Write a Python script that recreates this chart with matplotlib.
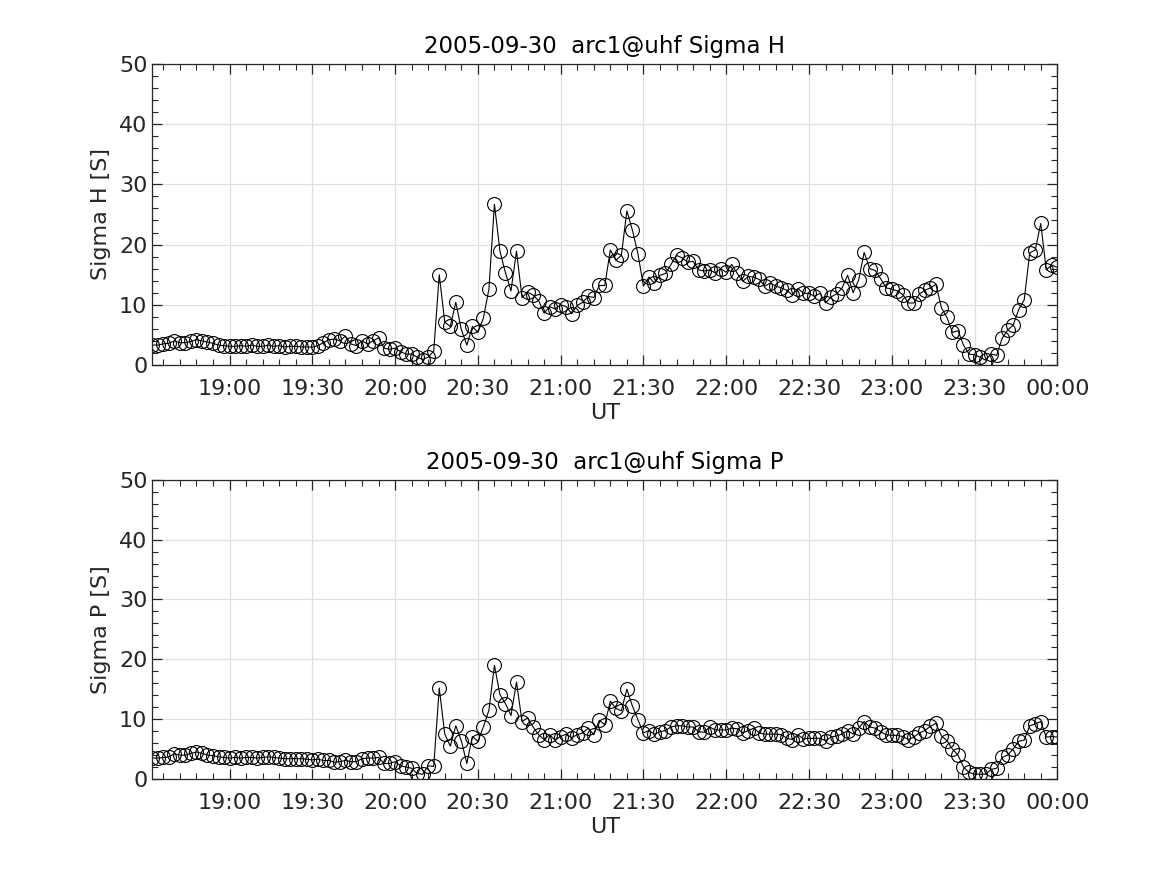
import datetime as dt
import matplotlib
matplotlib.use("Agg")
import matplotlib.pyplot as plt
import matplotlib.dates as mdates
from matplotlib.ticker import MultipleLocator

# data: one sample every 2 minutes, 18:32 -> 00:00
start_time = dt.datetime(2005, 9, 30, 18, 32)
n_samples = 165
times = [start_time + dt.timedelta(minutes=2 * i) for i in range(n_samples)]

sigma_h = [
    3.3, 3.3, 3.5, 3.6, 4.0, 3.7, 3.7, 3.9, 4.2, 4.0,
    3.8, 3.6, 3.3, 3.2, 3.1, 3.1, 3.2, 3.1, 3.3, 3.1,
    3.1, 3.3, 3.1, 3.2, 3.0, 3.1, 3.1, 3.0, 3.0, 2.95,
    3.2, 3.7, 4.2, 4.3, 4.0, 4.8, 3.5, 3.2, 4.0, 3.5,
    4.0, 4.5, 2.8, 2.6, 2.8, 2.2, 1.8, 1.8, 1.3, 0.9,
    1.3, 2.3,
    15.0, 7.1, 6.4, 10.4, 5.9, 3.3, 6.4, 5.4, 7.8, 12.6,
    26.7, 18.9, 15.3, 12.3, 18.9, 11.2, 12.1, 11.6, 10.7, 8.6,
    9.7, 9.3, 10.0, 9.7, 8.5, 9.9, 10.4, 11.4, 11.2, 13.2,
    13.2, 19.1, 17.4, 18.2, 25.6, 22.4, 18.5, 13.1, 14.6, 13.6,
    14.9, 15.2, 16.7, 18.2, 17.8, 17.1, 17.2, 15.8,
    15.6, 15.8, 15.3, 16.0, 15.4, 16.7, 15.2, 13.9, 14.7, 14.6,
    14.2, 13.1, 13.6, 13.1, 12.8, 12.4, 11.6, 12.7, 11.9, 11.9,
    11.4, 11.9, 10.3, 11.3, 11.8, 12.8, 14.9, 12.0, 14.1, 18.7,
    16.0, 15.7, 14.3, 12.8, 12.6, 12.3, 11.7, 10.3, 10.3, 11.8,
    12.4, 12.8, 13.4, 9.5, 7.9, 5.4, 5.7, 3.3, 1.8, 1.7,
    1.3, 0.8, 1.8, 1.6, 4.4, 5.8, 6.6, 9.2, 10.8, 18.6,
    19.1, 23.5, 15.8, 16.6, 16.2,
]

sigma_p = [
    3.5, 3.5, 3.6, 3.7, 4.2, 4.0, 4.0, 4.3, 4.5, 4.3,
    4.0, 3.9, 3.7, 3.6, 3.5, 3.6, 3.5, 3.6, 3.6, 3.5,
    3.6, 3.7, 3.6, 3.5, 3.4, 3.4, 3.4, 3.4, 3.3, 3.2,
    3.3, 3.1, 3.1, 2.8, 2.9, 3.1, 2.9, 2.9, 3.4, 3.5,
    3.5, 3.6, 2.6, 2.6, 2.9, 2.2, 2.0, 1.8, 0.9, 0.8,
    2.2, 2.1,
    15.2, 7.5, 5.5, 8.9, 6.4, 2.6, 7.1, 6.3, 8.7, 11.5,
    19.0, 14.1, 12.6, 10.6, 16.2, 9.6, 10.2, 8.7, 7.4, 6.6,
    7.4, 6.5, 7.1, 7.5, 6.9, 7.4, 7.7, 8.5, 7.4, 9.8,
    9.1, 13.0, 11.8, 11.4, 15.0, 12.2, 9.9, 7.7, 8.1, 7.5,
    7.9, 8.1, 8.7, 8.9, 8.9, 8.7, 8.7, 7.9,
    7.8, 8.7, 8.2, 8.2, 8.2, 8.5, 8.4, 7.7, 8.1, 8.5,
    7.7, 7.5, 7.5, 7.5, 7.4, 6.8, 6.6, 7.4, 6.7, 6.8,
    6.8, 6.8, 6.4, 7.0, 7.2, 7.5, 8.1, 7.5, 8.5, 9.6,
    8.7, 8.5, 7.9, 7.4, 7.3, 7.3, 7.1, 6.6, 7.0, 7.7,
    8.1, 8.8, 9.3, 7.2, 6.4, 5.0, 4.0, 2.0, 1.1, 0.8,
    0.8, 0.8, 1.6, 1.8, 3.6, 4.0, 5.0, 6.3, 6.5, 8.9,
    9.2, 9.6, 7.0, 7.1, 7.0,
]

panels = [
    (sigma_h, "2005-09-30  arc1@uhf Sigma H", "Sigma H [S]"),
    (sigma_p, "2005-09-30  arc1@uhf Sigma P", "Sigma P [S]"),
]

plt.rcParams["font.family"] = "DejaVu Sans"

fig = plt.figure(figsize=(11.67, 8.75), dpi=100)
ax_top = fig.add_axes([0.1305, 0.5829, 0.7755, 0.344])
ax_bot = fig.add_axes([0.1305, 0.1097, 0.7755, 0.342])

for ax, (values, title, ylabel) in zip([ax_top, ax_bot], panels):
    ax.plot(times, values, color="black", linewidth=0.8, marker="o",
            markersize=10, markerfacecolor="none", markeredgecolor="black",
            markeredgewidth=0.8)
    ax.set_xlim(times[0], times[-1])
    ax.set_ylim(0, 50)

    ax.xaxis.set_major_locator(mdates.MinuteLocator(byminute=[0, 30]))
    ax.xaxis.set_minor_locator(mdates.MinuteLocator(byminute=range(0, 60, 6)))
    ax.xaxis.set_major_formatter(mdates.DateFormatter("%H:%M"))
    ax.yaxis.set_major_locator(MultipleLocator(10))
    ax.yaxis.set_minor_locator(MultipleLocator(2))

    ax.grid(True, which="major", color="#e0e0e0", linewidth=0.9)
    ax.set_axisbelow(True)
    ax.tick_params(which="both", direction="in", top=True, right=True,
                   labelsize=16, labelcolor="#262626", color="#262626")
    ax.tick_params(which="major", length=7, width=0.9)
    ax.tick_params(which="minor", length=4, width=0.8)
    ax.tick_params(axis="x", which="major", pad=10)
    for spine in ax.spines.values():
        spine.set_color("#262626")
        spine.set_linewidth(0.9)

    ax.set_title(title, fontsize=16.5, pad=8)
    ax.set_xlabel("UT", fontsize=16, color="#262626", labelpad=3)
    ax.set_ylabel(ylabel, fontsize=16, color="#262626", labelpad=6)

fig.savefig("out.png", dpi=100)
